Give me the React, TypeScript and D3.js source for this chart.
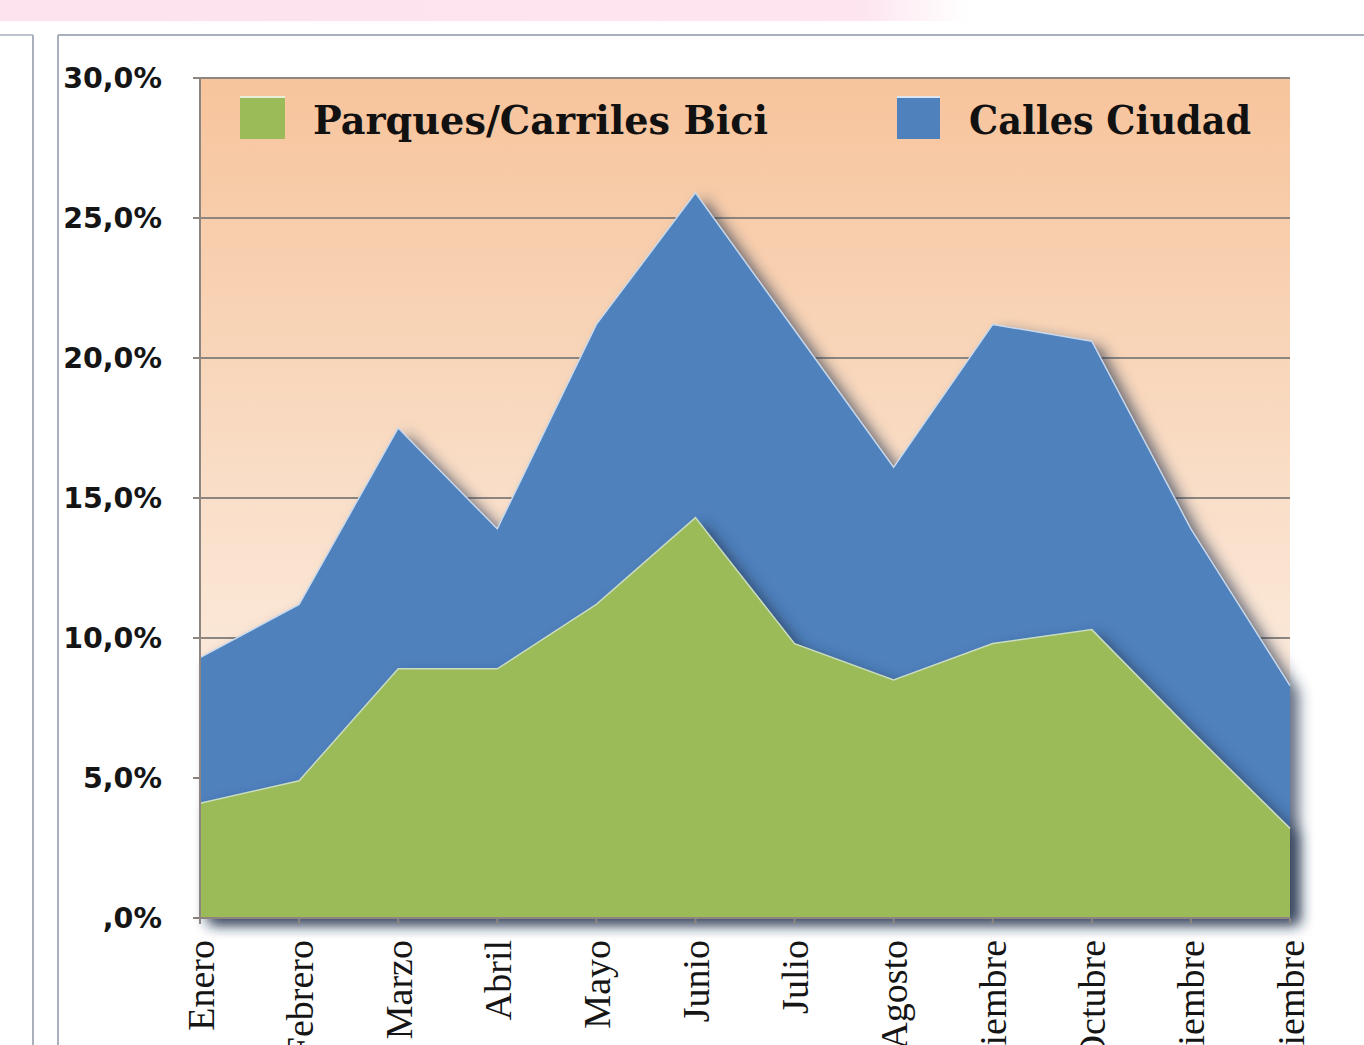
import React from 'react';
import * as d3 from 'd3';

const months = ['Enero', 'Febrero', 'Marzo', 'Abril', 'Mayo', 'Junio', 'Julio', 'Agosto', 'Septiembre', 'Octubre', 'Noviembre', 'Diciembre'];
const parques = [4.1, 4.9, 8.9, 8.9, 11.2, 14.3, 9.8, 8.5, 9.8, 10.3, 6.7, 3.2];
const calles = [5.2, 6.3, 8.6, 5.0, 10.0, 11.6, 11.2, 7.6, 11.4, 10.3, 7.2, 5.1];
const yTicks = [0, 5, 10, 15, 20, 25, 30];
const seriesNames = ['Parques/Carriles Bici', 'Calles Ciudad'];

const W = 1364;
const H = 1045;
const plot = { left: 200, right: 1290, top: 78, bottom: 918 };

const fmt = (v: number) => (v === 0 ? ',0%' : v.toFixed(1).replace('.', ',') + '%');

export default function App() {
    const x = d3.scalePoint<string>().domain(months).range([plot.left, plot.right]);
    const y = d3.scaleLinear().domain([0, 30]).range([plot.bottom, plot.top]);

    const rows = months.map((m, i) => ({ m, p: parques[i], total: parques[i] + calles[i] }));

    const greenArea = d3.area<any>()
        .x(d => x(d.m)!)
        .y0(y(0))
        .y1(d => y(d.p));
    const blueArea = d3.area<any>()
        .x(d => x(d.m)!)
        .y0(y(0))
        .y1(d => y(d.total));
    const greenTop = d3.line<any>().x(d => x(d.m)!).y(d => y(d.p));
    const blueTop = d3.line<any>().x(d => x(d.m)!).y(d => y(d.total));

    return (
        <div style={{ position: 'absolute', left: 0, top: 0, width: W, height: H, overflow: 'hidden', background: '#fff' }}>
            <svg width={W} height={H}>
                <defs>
                    <linearGradient id="pinkBand" x1="0" x2="1" y1="0" y2="0">
                        <stop offset="0" stopColor="#fde3ee" />
                        <stop offset="0.63" stopColor="#fde4ef" />
                        <stop offset="0.71" stopColor="#ffffff" />
                    </linearGradient>
                    <linearGradient id="plotBg" x1="0" x2="0" y1="0" y2="1">
                        <stop offset="0" stopColor="#f7c49c" />
                        <stop offset="0.45" stopColor="#f9dcc4" />
                        <stop offset="1" stopColor="#fef8f4" />
                    </linearGradient>
                    <filter id="shadow" x="-10%" y="-10%" width="125%" height="125%">
                        <feDropShadow dx="9" dy="6" stdDeviation="7" floodColor="#243150" floodOpacity="0.7" />
                    </filter>
                </defs>

                <rect x={0} y={0} width={W} height={21} fill="url(#pinkBand)" />

                <line x1={0} x2={33} y1={35} y2={35} stroke="#a9b0bd" strokeWidth={1.5} />
                <line x1={33} x2={33} y1={35} y2={H} stroke="#a9b0bd" strokeWidth={2} />
                <line x1={58} x2={58} y1={35} y2={H} stroke="#a9b0bd" strokeWidth={2} />
                <line x1={58} x2={W} y1={35} y2={35} stroke="#a9b0bd" strokeWidth={2} />

                <rect x={plot.left} y={plot.top} width={plot.right - plot.left} height={plot.bottom - plot.top} fill="url(#plotBg)" />

                {yTicks.map(t => (
                    <g key={t}>
                        {t > 0 && <line x1={plot.left} x2={plot.right} y1={y(t)} y2={y(t)} stroke="#8c8580" strokeWidth={2} />}
                        <line x1={plot.left - 7} x2={plot.left} y1={y(t)} y2={y(t)} stroke="#8c8580" strokeWidth={2} />
                        <text x={162} y={y(t)} dy="0.36em" textAnchor="end"
                            style={{ fontFamily: 'DejaVu Sans', fontWeight: 'bold', fontSize: 28.5, fill: '#151515' }}>
                            {fmt(t)}
                        </text>
                    </g>
                ))}

                <path d={blueArea(rows)!} fill="#4f81bd" filter="url(#shadow)" />
                <path d={greenArea(rows)!} fill="#9bbb59" filter="url(#shadow)" />
                <path d={blueTop(rows)!} fill="none" stroke="#c9d9ec" strokeWidth={1.5} />
                <path d={greenTop(rows)!} fill="none" stroke="#c9dcc0" strokeWidth={1.5} />

                <line x1={plot.left} x2={plot.left} y1={plot.top} y2={plot.bottom} stroke="#8c8580" strokeWidth={2} />
                <line x1={plot.left} x2={plot.right} y1={plot.bottom} y2={plot.bottom} stroke="#8c8580" strokeWidth={2} />

                {months.map(m => (
                    <g key={m}>
                        <line x1={x(m)} x2={x(m)} y1={plot.bottom} y2={plot.bottom + 6} stroke="#8c8580" strokeWidth={2} />
                        <text transform={`translate(${x(m)! + 1},${940}) rotate(-90)`} textAnchor="end" dy="0.33em"
                            style={{ fontFamily: 'Liberation Serif', fontSize: 38, fill: '#151515' }}>
                            {m}
                        </text>
                    </g>
                ))}

                <rect x={240} y={96} width={45} height={43} fill="#9bbb59" />
                <rect x={240} y={96} width={45} height={2} fill="#e8f0dc" />
                <text x={313} y={134} textLength={455} lengthAdjust="spacingAndGlyphs"
                    style={{ fontFamily: 'DejaVu Serif', fontWeight: 'bold', fontSize: 40, fill: '#111' }}>
                    {seriesNames[0]}
                </text>
                <rect x={897} y={96} width={43} height={43} fill="#4f81bd" />
                <rect x={897} y={96} width={43} height={2} fill="#dce6f2" />
                <text x={969} y={134} textLength={282} lengthAdjust="spacingAndGlyphs"
                    style={{ fontFamily: 'DejaVu Serif', fontWeight: 'bold', fontSize: 40, fill: '#111' }}>
                    {seriesNames[1]}
                </text>
            </svg>
        </div>
    );
}
